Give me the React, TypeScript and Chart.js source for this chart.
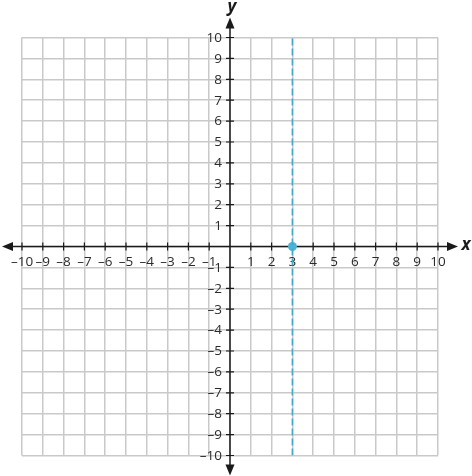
import React, { useEffect, useRef } from 'react';
import { Chart, registerables } from 'chart.js';

Chart.register(...registerables);

// Axis ranges and tick step
const axisMin = -10;
const axisMax = 10;
const tickStep = 1;

// Vertical dashed line x = 3
const lineXs = [3, 3];
const lineYs = [-10, 10];

// Highlighted point (3, 0)
const pointXs = [3];
const pointYs = [0];

// Axis names
const axisNames = ['x', 'y'];

const FONT = "'Open Sans', 'Noto Sans', sans-serif";
const LABEL_COLOR = '#2b2b2b';

const fmt = (v: number) => (v === 0 ? '' : v < 0 ? '\u2013' + Math.abs(v) : String(v));

const axesPlugin = {
  id: 'centerAxes',
  beforeDatasetsDraw(chart: any) {
    const { ctx, scales } = chart;
    const xs = scales.x;
    const ys = scales.y;
    const x0 = xs.getPixelForValue(0);
    const y0 = ys.getPixelForValue(0);
    const l = xs.getPixelForValue(axisMin);
    const r = xs.getPixelForValue(axisMax);
    const t = ys.getPixelForValue(axisMax);
    const b = ys.getPixelForValue(axisMin);
    const ext = 20;
    const ah = 11;
    const aw = 4.5;
    ctx.save();
    ctx.strokeStyle = '#1a1a1a';
    ctx.fillStyle = '#1a1a1a';
    ctx.lineWidth = 1.5;
    ctx.beginPath();
    ctx.moveTo(l - ext + ah - 1, y0);
    ctx.lineTo(r + ext - ah + 1, y0);
    ctx.moveTo(x0, t - ext + ah - 1);
    ctx.lineTo(x0, b + ext - ah + 1);
    ctx.stroke();
    const tri = (ax: number, ay: number, bx: number, by: number, cx: number, cy: number) => {
      ctx.beginPath();
      ctx.moveTo(ax, ay);
      ctx.lineTo(bx, by);
      ctx.lineTo(cx, cy);
      ctx.closePath();
      ctx.fill();
    };
    tri(r + ext, y0, r + ext - ah, y0 - aw, r + ext - ah, y0 + aw);
    tri(l - ext, y0, l - ext + ah, y0 - aw, l - ext + ah, y0 + aw);
    tri(x0, t - ext, x0 - aw, t - ext + ah, x0 + aw, t - ext + ah);
    tri(x0, b + ext, x0 - aw, b + ext - ah, x0 + aw, b + ext - ah);
    // tick marks
    ctx.lineWidth = 1.2;
    ctx.beginPath();
    xs.ticks.forEach((tk: any) => {
      if (tk.value === 0) return;
      const px = xs.getPixelForValue(tk.value);
      ctx.moveTo(px, y0 - 4);
      ctx.lineTo(px, y0 + 4);
    });
    ys.ticks.forEach((tk: any) => {
      if (tk.value === 0) return;
      const py = ys.getPixelForValue(tk.value);
      ctx.moveTo(x0 - 4, py);
      ctx.lineTo(x0 + 4, py);
    });
    ctx.stroke();
    // y tick labels, to the left of the centred y axis
    ctx.fillStyle = LABEL_COLOR;
    ctx.font = `13.5px ${FONT}`;
    ctx.textAlign = 'right';
    ctx.textBaseline = 'middle';
    ys.ticks.forEach((tk: any) => {
      const lbl = fmt(tk.value);
      if (!lbl) return;
      ctx.fillText(lbl, x0 - 8, ys.getPixelForValue(tk.value) + 0.5);
    });
    // axis names
    ctx.fillStyle = '#1a1a1a';
    ctx.font = `italic bold 17px ${FONT}`;
    ctx.textAlign = 'center';
    ctx.textBaseline = 'middle';
    ctx.fillText(axisNames[0], r + ext + 8, y0 - 1);
    ctx.fillText(axisNames[1], x0 + 2, t - ext - 10);
    ctx.restore();
  },
};

export default function App() {
  const ref = useRef<HTMLCanvasElement | null>(null);
  useEffect(() => {
    document.body.style.margin = '0';
    if (!ref.current) return;
    const chart = new Chart(ref.current, {
      type: 'scatter',
      data: {
        datasets: [
          {
            data: lineXs.map((x, i) => ({ x, y: lineYs[i] })),
            showLine: true,
            borderColor: '#42a9cb',
            borderWidth: 1.6,
            borderDash: [7, 3],
            pointRadius: 0,
          },
          {
            data: pointXs.map((x, i) => ({ x, y: pointYs[i] })),
            pointRadius: 4.5,
            backgroundColor: '#4db4d8',
            borderColor: '#4db4d8',
            borderWidth: 0,
          },
        ],
      },
      options: {
        responsive: false,
        animation: false,
        events: [],
        layout: { padding: { left: 22, right: 34, top: 37.5, bottom: 20.5 } },
        plugins: { legend: { display: false }, tooltip: { enabled: false } },
        scales: {
          x: {
            type: 'linear',
            min: axisMin,
            max: axisMax,
            position: { y: 0 } as any,
            border: { display: false },
            grid: { color: '#c9c9c9', lineWidth: 1.5, drawTicks: false },
            ticks: {
              stepSize: tickStep,
              autoSkip: false,
              maxRotation: 0,
              padding: 8,
              color: LABEL_COLOR,
              font: { family: FONT, size: 13.5 },
              callback: (v: any) => fmt(Number(v)),
            },
          },
          y: {
            type: 'linear',
            min: axisMin,
            max: axisMax,
            position: { x: 0 } as any,
            border: { display: false },
            grid: { color: '#c9c9c9', lineWidth: 1.5, drawTicks: false },
            ticks: {
              stepSize: tickStep,
              autoSkip: false,
              display: false,
            },
          },
        },
      },
      plugins: [axesPlugin],
    });
    return () => chart.destroy();
  }, []);
  return (
    <div style={{ position: 'absolute', left: 0, top: 0, width: 472, height: 476, background: '#fff' }}>
      <canvas ref={ref} width={472} height={476} style={{ display: 'block' }} />
    </div>
  );
}
